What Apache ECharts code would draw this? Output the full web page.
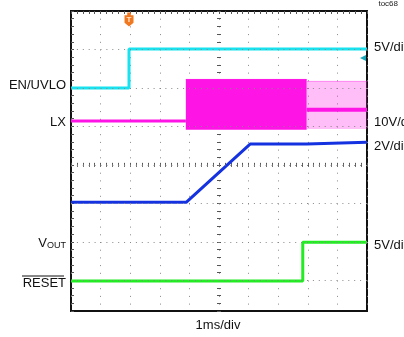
<!DOCTYPE html>
<html>
<head>
<meta charset="utf-8">
<script src="https://cdn.jsdelivr.net/npm/echarts@6/dist/echarts.min.js"></script>
<style>
  html, body { margin: 0; padding: 0; background: #fff; }
  #scope { width: 404px; height: 337px; }
</style>
</head>
<body>
<div id="scope"></div>
<script>
// time in ms (1ms/div), voltages in V
const enTime = [0, 1.96, 1.96, 10];
const enVolts = [0, 0, 5.05, 5.05];

const lxIdleTime = [0, 3.88];
const lxIdleVolts = [0, 0];
const lxBurstTime = [3.88, 7.96];
const lxBurstHigh = [10.8, 10.8];
const lxBurstLow = -2.3;
const lxTailTime = [7.96, 10];
const lxTailHigh = [10.3, 10.3];
const lxTailLow = -2.1;
const lxTailMid = [2.9, 2.9];

const voutTime = [0, 3.89, 6.05, 7.96, 7.96, 10];
const voutVolts = [2.05, 2.05, 5.08, 5.08, 5.18, 5.18];

const resetTime = [0, 7.83, 7.83, 10];
const resetVolts = [-0.1, -0.1, 4.95, 4.95];

const trigTime = 1.96;
const gridDivs = [1, 2, 3, 4, 5, 6, 7];

// channel scale and ground level (in screen divisions from the bottom)
const chEN = { perDiv: 5, zero: 6.0 };
const chLX = { perDiv: 10, zero: 5.14 };
const chVOUT = { perDiv: 2, zero: 2.0 };
const chRESET = { perDiv: 5, zero: 1.0 };

const toDiv = (ch, v) => ch.zero + v / ch.perDiv;
const trace = (ch, times, volts) => times.map((t, i) => [t, toDiv(ch, volts[i])]);

const FONT = '"Liberation Sans", Arial, sans-serif';
const cyan = '#16e3ef';
const magenta = '#ff14e6';
const blue = '#1432e0';
const green = '#22ec22';

const chart = echarts.init(document.getElementById('scope'));

const tickAxisX = (extra) => Object.assign({
  type: 'value', min: 0, max: 10, interval: 0.2,
  axisLine: { show: false }, axisLabel: { show: false }, splitLine: { show: false },
}, extra);
const tickAxisY = (extra) => Object.assign({
  type: 'value', min: 0.2, max: 8, interval: 0.2,
  axisLine: { show: false, onZero: false }, axisLabel: { show: false }, splitLine: { show: false },
}, extra);
const ticks = (inside, length) => ({ show: true, inside, length, lineStyle: { color: '#555' } });

const lineSeries = (data, color, width, z) => ({
  type: 'line', data, showSymbol: false, silent: true, animation: false, z,
  lineStyle: { color, width }, clip: true,
});

chart.setOption({
  animation: false,
  grid: {
    left: 71, top: 11, width: 296, height: 300,
    show: true, borderColor: '#111', borderWidth: 2, backgroundColor: '#fff',
  },
  xAxis: [
    {
      type: 'value', min: 0, max: 10, interval: 1,
      axisLine: { show: false }, axisTick: { show: false }, axisLabel: { show: false },
      splitLine: { show: true, lineStyle: { color: '#888', width: 1, type: [1, 6.7] } },
    },
    tickAxisX({ position: 'top', axisTick: ticks(true, 3) }),
    tickAxisX({ position: 'bottom', offset: -146.15, axisTick: ticks(true, 2) }),
    tickAxisX({ position: 'bottom', offset: -146.15, axisTick: ticks(false, 2) }),
  ],
  yAxis: [
    tickAxisY({ position: 'left', axisTick: ticks(true, 3) }),
    tickAxisY({ position: 'left', offset: -148, axisTick: ticks(true, 2) }),
    tickAxisY({ position: 'left', offset: -148, axisTick: ticks(false, 2) }),
  ],
  series: [
    {
      type: 'line', data: [], z: 1, silent: true,
      markLine: {
        silent: true, symbol: 'none', animation: false,
        label: { show: false },
        lineStyle: { color: '#888', width: 1, type: [1, 4.9] },
        data: gridDivs.map(k => ({ yAxis: k })),
      },
    },
    Object.assign(lineSeries(trace(chLX, lxBurstTime, lxBurstHigh), magenta, 1, 3), {
      areaStyle: { color: magenta, opacity: 1, origin: toDiv(chLX, lxBurstLow) },
    }),
    Object.assign(lineSeries(trace(chLX, lxTailTime, lxTailHigh), 'rgba(255,20,230,0.45)', 1, 3), {
      areaStyle: { color: 'rgba(255,20,230,0.4)', origin: toDiv(chLX, lxTailLow) },
    }),
    lineSeries(trace(chLX, lxTailTime, lxTailMid), magenta, 4, 3),
    lineSeries(trace(chLX, lxIdleTime, lxIdleVolts), magenta, 3, 3),
    Object.assign(lineSeries(trace(chEN, enTime, enVolts), cyan, 3, 4), {
      markPoint: {
        silent: true, animation: false,
        data: [
          {
            coord: [trigTime, 7.78], symbol: 'path://M3,0 L7,0 L7,3 L10,3 L10,11 L5,15 L0,11 L0,3 L3,3 Z',
            symbolSize: [9, 14], symbolKeepAspect: false,
            itemStyle: { color: '#f07820' },
            label: { show: true, formatter: 'T', color: '#ffe8d0', fontSize: 8, fontWeight: 'bold', fontFamily: FONT, offset: [0, 0] },
          },
          {
            coord: [10, 6.78], symbol: 'triangle', symbolRotate: 90, symbolSize: [6, 6], symbolOffset: [-4, 0],
            itemStyle: { color: '#18a6b8' }, label: { show: false },
          },
        ],
      },
    }),
    lineSeries(trace(chVOUT, voutTime, voutVolts), blue, 3, 4),
    lineSeries(trace(chRESET, resetTime, resetVolts), green, 3, 4),
  ],
  graphic: [
    { type: 'text', style: { text: 'EN/UVLO', x: 66, y: 85, align: 'right', verticalAlign: 'middle', font: '13px ' + FONT, fill: '#111' } },
    { type: 'text', style: { text: 'LX', x: 66, y: 122.5, align: 'right', verticalAlign: 'middle', font: '13px ' + FONT, fill: '#111' } },
    {
      type: 'text',
      style: {
        text: '{v|V}{s|OUT}', x: 66, y: 243.5, align: 'right', verticalAlign: 'middle', fill: '#111',
        rich: {
          v: { fontSize: 13, fontFamily: FONT, fill: '#111' },
          s: { fontSize: 9, fontFamily: FONT, fill: '#111', padding: [4, 0, 0, 0] },
        },
      },
    },
    { type: 'text', style: { text: 'RESET', x: 66, y: 283, align: 'right', verticalAlign: 'middle', font: '13px ' + FONT, fill: '#111' } },
    { type: 'line', shape: { x1: 22, y1: 276, x2: 64, y2: 276 }, style: { stroke: '#111', lineWidth: 1 } },
    { type: 'text', style: { text: '5V/div', x: 374, y: 47.5, verticalAlign: 'middle', font: '13px ' + FONT, fill: '#111' } },
    { type: 'text', style: { text: '10V/div', x: 374, y: 122.5, verticalAlign: 'middle', font: '13px ' + FONT, fill: '#111' } },
    { type: 'text', style: { text: '2V/div', x: 374, y: 146.5, verticalAlign: 'middle', font: '13px ' + FONT, fill: '#111' } },
    { type: 'text', style: { text: '5V/div', x: 374, y: 245.5, verticalAlign: 'middle', font: '13px ' + FONT, fill: '#111' } },
    { type: 'text', style: { text: 'toc68', x: 398, y: 4, align: 'right', verticalAlign: 'middle', font: '8px ' + FONT, fill: '#222' } },
    { type: 'text', style: { text: '1ms/div', x: 218, y: 325, align: 'center', verticalAlign: 'middle', font: '13px ' + FONT, fill: '#111' } },
  ],
});
</script>
</body>
</html>
